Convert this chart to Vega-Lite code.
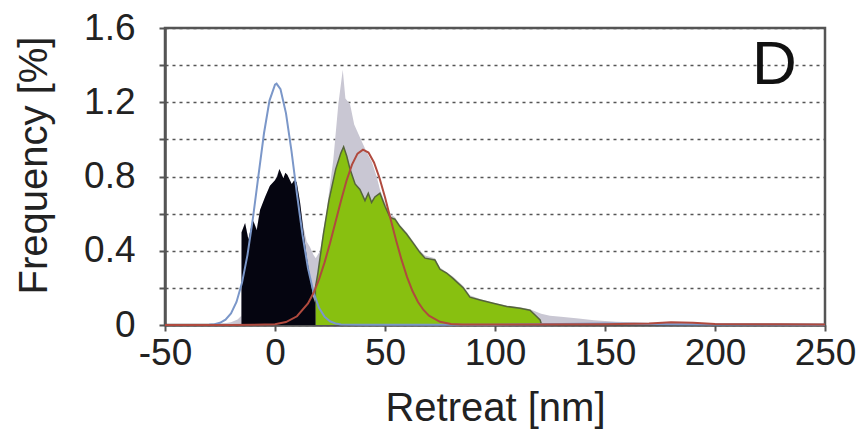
{
  "$schema": "https://vega.github.io/schema/vega-lite/v6.json",
  "width": 660,
  "height": 297,
  "autosize": "none",
  "padding": {"left": 165, "top": 28, "right": 42, "bottom": 108},
  "background": "white",
  "config": {
    "view": {"stroke": "#555555", "strokeWidth": 2.5},
    "font": "Liberation Sans"
  },
  "datasets": {
    "gray": [
      {"x": -50, "y": 0}, {"x": -30, "y": 0}, {"x": -25, "y": 0.005}, {"x": -20, "y": 0.015}, {"x": -17, "y": 0.03}, {"x": -15.3, "y": 0.05},
      {"x": -15.2, "y": 0.5}, {"x": -13.6, "y": 0.55}, {"x": -12.1, "y": 0.47}, {"x": -9.85, "y": 0.56}, {"x": -8.3, "y": 0.52}, {"x": -6.8, "y": 0.62},
      {"x": -4.5, "y": 0.69}, {"x": -2.3, "y": 0.75}, {"x": 0, "y": 0.78}, {"x": 2, "y": 0.84}, {"x": 3.8, "y": 0.79}, {"x": 5.6, "y": 0.81},
      {"x": 7.6, "y": 0.76}, {"x": 9.85, "y": 0.77}, {"x": 11.4, "y": 0.66}, {"x": 12.9, "y": 0.53}, {"x": 14.4, "y": 0.45}, {"x": 15.9, "y": 0.42},
      {"x": 17.4, "y": 0.38}, {"x": 18.5, "y": 0.36}, {"x": 20.5, "y": 0.4}, {"x": 23.5, "y": 0.62}, {"x": 26.5, "y": 0.89}, {"x": 28.8, "y": 1.19},
      {"x": 30.8, "y": 1.375}, {"x": 32, "y": 1.22}, {"x": 34.1, "y": 1.19}, {"x": 36, "y": 1.08}, {"x": 39.4, "y": 0.99}, {"x": 41.7, "y": 0.93},
      {"x": 44, "y": 0.88}, {"x": 46.2, "y": 0.8}, {"x": 47.7, "y": 0.73}, {"x": 50, "y": 0.66}, {"x": 52.3, "y": 0.6}, {"x": 54.5, "y": 0.58},
      {"x": 56.8, "y": 0.54}, {"x": 59.8, "y": 0.5}, {"x": 62.9, "y": 0.45}, {"x": 65.9, "y": 0.4}, {"x": 68.2, "y": 0.375}, {"x": 72.7, "y": 0.36},
      {"x": 75, "y": 0.31}, {"x": 81, "y": 0.26}, {"x": 85.6, "y": 0.21}, {"x": 88.6, "y": 0.16}, {"x": 93.2, "y": 0.14}, {"x": 99.2, "y": 0.12},
      {"x": 105.3, "y": 0.105}, {"x": 111.4, "y": 0.095}, {"x": 115.9, "y": 0.085}, {"x": 121, "y": 0.06}, {"x": 125, "y": 0.05}, {"x": 130, "y": 0.045},
      {"x": 138, "y": 0.035}, {"x": 145, "y": 0.025}, {"x": 155, "y": 0.018}, {"x": 170, "y": 0.012}, {"x": 190, "y": 0.01}, {"x": 220, "y": 0.006}, {"x": 250, "y": 0.004}
    ],
    "black": [
      {"x": -15.25, "y": 0}, {"x": -15.2, "y": 0.5}, {"x": -13.6, "y": 0.55}, {"x": -12.1, "y": 0.46}, {"x": -11, "y": 0.52}, {"x": -9.85, "y": 0.56},
      {"x": -8.3, "y": 0.51}, {"x": -6.8, "y": 0.62}, {"x": -4.5, "y": 0.69}, {"x": -2.3, "y": 0.75}, {"x": 0, "y": 0.78}, {"x": 1, "y": 0.8},
      {"x": 2, "y": 0.84}, {"x": 3.8, "y": 0.79}, {"x": 4.7, "y": 0.82}, {"x": 5.6, "y": 0.81}, {"x": 7.6, "y": 0.76}, {"x": 8.7, "y": 0.78},
      {"x": 9.85, "y": 0.77}, {"x": 11.4, "y": 0.66}, {"x": 12.9, "y": 0.51}, {"x": 14.4, "y": 0.37}, {"x": 15.9, "y": 0.26}, {"x": 17.4, "y": 0.15},
      {"x": 18.2, "y": 0.12}, {"x": 18.25, "y": 0}
    ],
    "green": [
      {"x": 18.3, "y": 0}, {"x": 18.35, "y": 0.2}, {"x": 19.5, "y": 0.28}, {"x": 22, "y": 0.49}, {"x": 24.5, "y": 0.67}, {"x": 27.6, "y": 0.84},
      {"x": 29.9, "y": 0.925}, {"x": 31.2, "y": 0.96}, {"x": 32.6, "y": 0.91}, {"x": 34.1, "y": 0.84}, {"x": 36.4, "y": 0.76}, {"x": 38.6, "y": 0.73},
      {"x": 40.9, "y": 0.67}, {"x": 42.4, "y": 0.71}, {"x": 43.9, "y": 0.66}, {"x": 45.4, "y": 0.69}, {"x": 47.7, "y": 0.71}, {"x": 50, "y": 0.64},
      {"x": 52.3, "y": 0.58}, {"x": 54.5, "y": 0.57}, {"x": 56.8, "y": 0.53}, {"x": 59.8, "y": 0.49}, {"x": 62.9, "y": 0.44}, {"x": 65.9, "y": 0.39},
      {"x": 68.2, "y": 0.36}, {"x": 72.7, "y": 0.35}, {"x": 75, "y": 0.3}, {"x": 78, "y": 0.28}, {"x": 81, "y": 0.25}, {"x": 85.6, "y": 0.2},
      {"x": 88.6, "y": 0.15}, {"x": 93.2, "y": 0.135}, {"x": 99.2, "y": 0.117}, {"x": 105.3, "y": 0.1}, {"x": 111.4, "y": 0.09}, {"x": 115.9, "y": 0.08},
      {"x": 118.2, "y": 0.054}, {"x": 120.5, "y": 0.027}, {"x": 121.2, "y": 0}
    ],
    "blue": [
      {"x": -50, "y": 0}, {"x": -40, "y": 0}, {"x": -35, "y": 0.0002}, {"x": -30, "y": 0.0016}, {"x": -27.5, "y": 0.0046}, {"x": -25, "y": 0.012},
      {"x": -22.5, "y": 0.029}, {"x": -20, "y": 0.062}, {"x": -17.5, "y": 0.124}, {"x": -15, "y": 0.227}, {"x": -12.5, "y": 0.378}, {"x": -10, "y": 0.578},
      {"x": -7.5, "y": 0.807}, {"x": -5, "y": 1.033}, {"x": -2.5, "y": 1.209}, {"x": 0, "y": 1.295}, {"x": 0.7, "y": 1.3}, {"x": 2.5, "y": 1.27},
      {"x": 5, "y": 1.14}, {"x": 7.5, "y": 0.937}, {"x": 10, "y": 0.704}, {"x": 12.5, "y": 0.485}, {"x": 15, "y": 0.305}, {"x": 17.5, "y": 0.176},
      {"x": 20, "y": 0.093}, {"x": 22.5, "y": 0.045}, {"x": 25, "y": 0.02}, {"x": 27.5, "y": 0.008}, {"x": 30, "y": 0.003}, {"x": 40, "y": 0.001},
      {"x": 100, "y": 0.002}, {"x": 130, "y": 0.006}, {"x": 150, "y": 0.008}, {"x": 170, "y": 0.005}, {"x": 200, "y": 0.003}, {"x": 250, "y": 0.002}
    ],
    "red": [
      {"x": -50, "y": 0}, {"x": -20, "y": 0}, {"x": -10, "y": 0.001}, {"x": 0, "y": 0.0045}, {"x": 5, "y": 0.016}, {"x": 10, "y": 0.047},
      {"x": 15, "y": 0.116}, {"x": 17.5, "y": 0.172}, {"x": 20, "y": 0.245}, {"x": 22.5, "y": 0.336}, {"x": 25, "y": 0.44}, {"x": 27.5, "y": 0.555},
      {"x": 30, "y": 0.67}, {"x": 32.5, "y": 0.777}, {"x": 35, "y": 0.864}, {"x": 37.5, "y": 0.923}, {"x": 40, "y": 0.945}, {"x": 42.5, "y": 0.929},
      {"x": 45, "y": 0.876}, {"x": 47.5, "y": 0.792}, {"x": 50, "y": 0.688}, {"x": 52.5, "y": 0.573}, {"x": 55, "y": 0.458}, {"x": 57.5, "y": 0.352},
      {"x": 60, "y": 0.259}, {"x": 62.5, "y": 0.183}, {"x": 65, "y": 0.124}, {"x": 67.5, "y": 0.081}, {"x": 70, "y": 0.05}, {"x": 75, "y": 0.017},
      {"x": 80, "y": 0.006}, {"x": 85, "y": 0.003}, {"x": 100, "y": 0.003}, {"x": 150, "y": 0.004}, {"x": 170, "y": 0.008}, {"x": 180, "y": 0.015},
      {"x": 190, "y": 0.012}, {"x": 200, "y": 0.006}, {"x": 230, "y": 0.004}, {"x": 250, "y": 0.003}
    ],
    "label": [{"x": 227, "y": 1.4, "text": "D"}]
  },
  "encoding": {
    "x": {
      "field": "x", "type": "quantitative",
      "scale": {"domain": [-50, 250], "nice": false, "zero": false},
      "axis": {
        "values": [-50, 0, 50, 100, 150, 200, 250],
        "labelExpr": "'' + datum.value",
        "title": "Retreat [nm]",
        "titleFont": "Liberation Sans", "titleFontSize": 40, "titleFontWeight": "normal", "titleColor": "#222222",
        "titleY": 95, "titleBaseline": "alphabetic",
        "labelFont": "Liberation Sans", "labelFontSize": 37, "labelColor": "#222222", "labelPadding": 4,
        "labelFlush": false, "labelOverlap": false,
        "domainColor": "#555555", "domainWidth": 2.5, "tickColor": "#555555", "tickWidth": 2, "tickSize": 6,
        "grid": false
      }
    },
    "y": {
      "field": "y", "type": "quantitative",
      "scale": {"domain": [0, 1.6], "nice": false},
      "axis": {
        "values": [0, 0.2, 0.4, 0.6, 0.8, 1.0, 1.2, 1.4, 1.6],
        "labelExpr": "datum.value == 0 ? '0' : (round(datum.value * 10) % 4 == 0 ? format(datum.value, '.1f') : '')",
        "title": "Frequency [%]",
        "titleFont": "Liberation Sans", "titleFontSize": 40, "titleFontWeight": "normal", "titleColor": "#222222",
        "titleX": -119, "titleY": 137, "titleAlign": "center", "titleBaseline": "alphabetic", "titleAngle": 270,
        "labelFont": "Liberation Sans", "labelFontSize": 37, "labelColor": "#222222", "labelPadding": 24,
        "labelFlush": false, "labelOverlap": false,
        "domainColor": "#555555", "domainWidth": 2.5, "tickColor": "#555555", "tickWidth": 2, "tickSize": 6,
        "grid": true, "gridColor": "#555555", "gridDash": [3, 4], "gridWidth": 1.5
      }
    }
  },
  "layer": [
    {"data": {"name": "gray"}, "mark": {"type": "area", "color": "#c9c7d3", "opacity": 1}},
    {"data": {"name": "green"}, "mark": {"type": "area", "color": "#88c010", "opacity": 1, "line": {"color": "#55643a", "strokeWidth": 1.5}}},
    {"data": {"name": "black"}, "mark": {"type": "area", "color": "#050510", "opacity": 1}},
    {"data": {"name": "blue"}, "mark": {"type": "line", "color": "#7b97c9", "strokeWidth": 2}},
    {"data": {"name": "red"}, "mark": {"type": "line", "color": "#b04a3e", "strokeWidth": 2}},
    {"data": {"name": "label"}, "mark": {"type": "text", "font": "Liberation Sans", "fontSize": 62, "color": "#111111", "align": "center", "baseline": "middle"},
     "encoding": {"text": {"field": "text"}}}
  ]
}
